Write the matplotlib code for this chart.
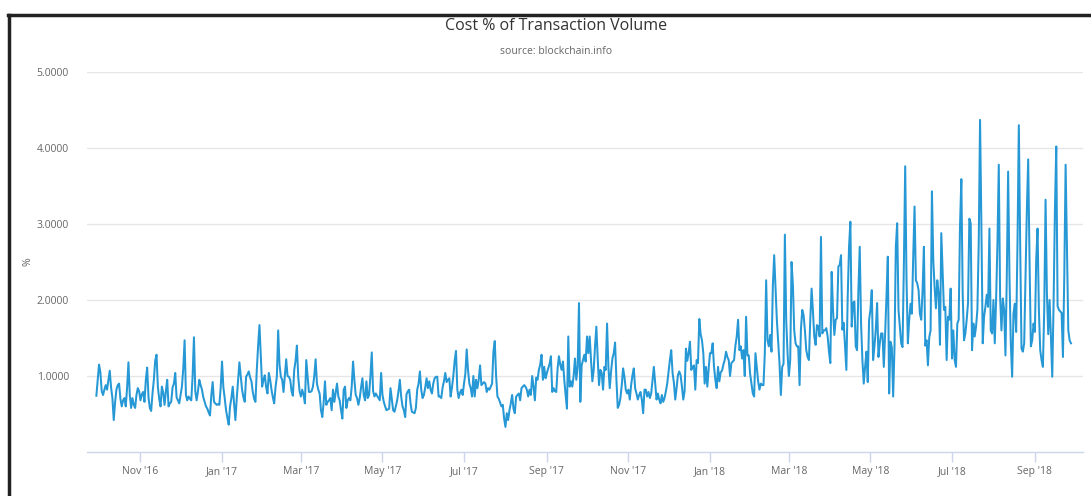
import matplotlib
matplotlib.use("Agg")
import matplotlib.pyplot as plt
import matplotlib.dates as mdates
from matplotlib.lines import Line2D
import pandas as pd

plt.rcParams["font.family"] = ["Open Sans", "DejaVu Sans"]

title = "Cost % of Transaction Volume"
subtitle = "source: blockchain.info"
y_label = "%"
start_date = "2016-09-29"
y_ticks = [1, 2, 3, 4, 5]

# daily values
values_2016 = [
    0.74, 0.95, 1.15, 1.05, 0.80, 0.75, 0.82, 0.88, 0.82, 0.95,
    1.07, 0.85, 0.71, 0.42, 0.65, 0.82, 0.88, 0.90, 0.70, 0.60,
    0.68, 0.71, 0.60, 0.85, 1.18, 0.75, 0.58, 0.71, 0.62, 0.58,
    0.75, 0.84, 0.80, 0.68, 0.76, 0.79, 0.66, 0.95, 1.11, 0.72,
    0.58, 0.54, 0.77, 0.95, 1.20, 1.28, 0.86, 0.70, 0.60, 0.86,
    0.78, 0.62, 0.80, 0.95, 0.60, 0.64, 0.66, 0.85, 0.90, 1.04,
    0.72, 0.68, 0.64, 0.75, 0.86, 1.10, 1.47, 0.75, 0.68, 0.73,
    0.70, 0.68, 1.00, 1.51, 0.80, 0.68, 0.80, 0.95, 0.88, 0.82,
    0.72, 0.66, 0.60, 0.57, 0.52, 0.48, 0.75, 0.92, 0.66, 0.64,
    0.62, 0.63, 0.62, 0.85,
]

values_2017 = [
    1.19, 0.85, 0.71, 0.55, 0.45, 0.36,
    0.60, 0.71, 0.86, 0.64, 0.42, 0.70, 0.95, 1.18, 1.00, 0.82,
    0.72, 0.66, 0.99, 1.02, 1.06, 0.98, 0.93, 0.79, 0.70, 0.66,
    1.08, 1.40, 1.67, 1.25, 0.86, 0.95, 1.01, 0.85, 0.77, 1.04,
    0.95, 0.82, 0.72, 0.64, 0.85, 0.99, 1.60, 1.15, 0.99, 0.95,
    0.79, 1.00, 1.22, 1.00, 0.99, 0.95, 0.80, 0.74, 1.08, 1.20,
    1.40, 0.99, 0.80, 0.73, 0.82, 0.75, 0.64, 1.21, 1.00, 0.79,
    0.79, 0.80, 0.86, 1.00, 1.22, 0.90, 0.82, 0.77, 0.55, 0.46,
    0.65, 0.93, 0.62, 0.66, 0.68, 0.71, 0.55, 0.82, 0.66, 0.78,
    0.90, 0.73, 0.68, 0.55, 0.44, 0.82, 0.86, 0.58, 0.68, 0.71,
    0.68, 0.86, 1.19, 0.95, 0.75, 0.71, 0.62, 0.71, 0.85, 0.97,
    0.75, 0.68, 0.93, 0.71, 0.75, 1.00, 1.31, 0.80, 0.73, 0.77,
    0.74, 0.71, 0.68, 1.04, 0.75, 0.66, 0.60, 0.55, 0.56, 0.57,
    0.84, 0.70, 0.55, 0.53, 0.60, 0.68, 0.80, 0.95, 0.73, 0.60,
    0.55, 0.46, 0.76, 0.80, 0.82, 0.64, 0.53, 0.52, 0.51, 0.58,
    0.82, 0.90, 1.06, 0.82, 0.71, 0.75, 0.85, 0.97, 0.84, 0.93,
    0.82, 0.77, 0.90, 0.97, 0.99, 0.99, 0.73, 0.73, 0.71, 0.85,
    0.93, 1.04, 0.92, 0.95, 0.97, 0.73, 0.85, 1.00, 1.20, 1.33,
    0.82, 0.71, 0.78, 0.82, 0.75, 0.90, 1.03, 1.35, 1.08, 0.90,
    0.84, 0.73, 1.00, 0.73, 0.95, 0.84, 0.95, 1.14, 0.88, 0.90,
    0.92, 0.90, 0.79, 0.84, 0.82, 0.86, 0.90, 1.32, 1.46, 1.00,
    0.73, 0.70, 0.65, 0.60, 0.62, 0.44, 0.33, 0.51, 0.42, 0.55,
    0.64, 0.75, 0.57, 0.51, 0.73, 0.75, 0.77, 0.68, 0.84, 0.86,
    0.88, 0.86, 0.82, 0.73, 0.82, 0.75, 1.00, 0.86, 0.68, 0.98,
    0.95, 1.08, 1.15, 1.28, 0.95, 1.12, 0.97, 1.04, 1.10, 1.16,
    1.26, 0.79, 0.84, 0.80, 0.79, 1.10, 1.26, 1.15, 1.08, 1.19,
    0.95, 0.75, 0.57, 1.52, 0.86, 0.93, 0.86, 1.00, 1.23, 0.95,
    1.12, 1.96, 0.66, 1.14, 1.21, 1.28, 1.19, 1.52, 1.30, 1.52,
    1.21, 0.93, 1.08, 1.39, 1.65, 1.23, 0.88, 1.08, 1.04, 0.82,
    1.12, 1.08, 1.69, 1.12, 0.84, 1.06, 1.23, 1.30, 1.44, 0.95,
    0.58, 0.62, 0.71, 0.88, 1.10, 0.99, 0.82, 0.77, 0.82, 0.69,
    0.88, 1.01, 1.10, 0.84, 0.77, 0.69, 0.75, 0.79, 0.69, 0.51,
    0.82, 0.82, 0.73, 0.79, 0.71, 0.77, 0.95, 1.12, 0.91, 0.69,
    0.77, 0.69, 0.64, 0.75, 0.66, 0.71, 0.80, 0.90, 1.06, 1.21,
    1.34, 1.04, 0.91, 0.69, 0.84, 1.01, 1.06, 1.01, 0.86, 0.69,
    0.80, 1.36, 1.20, 1.30, 1.45, 1.08, 1.12, 1.14, 0.82, 1.21,
    1.17, 1.75, 1.55, 1.47, 1.30, 0.90, 1.12, 0.86, 1.10,
]

values_2018 = [
    1.30,
    1.30, 1.43, 1.12, 0.95, 0.84, 1.12, 0.93, 1.05, 1.07, 1.15,
    1.21, 1.32, 1.25, 1.21, 1.00, 1.17, 1.19, 1.21, 1.40, 1.52,
    1.74, 1.34, 1.39, 1.23, 1.34, 1.00, 1.78, 1.27, 1.27, 1.03,
    0.90, 0.77, 0.73, 1.30, 1.12, 0.93, 0.82, 0.90, 0.88, 0.88,
    1.30, 2.26, 1.47, 1.39, 1.54, 1.32, 2.18, 2.59, 2.18, 1.74,
    1.45, 1.16, 0.75, 1.12, 1.16, 2.86, 1.74, 1.30, 1.00, 1.21,
    2.50, 2.20, 1.60, 1.43, 1.39, 1.39, 0.88, 1.61, 1.87, 1.80,
    1.60, 1.34, 1.25, 1.21, 1.74, 2.15, 1.85, 1.52, 1.41, 1.67,
    1.65, 1.52, 2.83, 1.56, 1.60, 1.60, 1.63, 1.52, 1.32, 1.17,
    2.37, 1.87, 1.54, 1.74, 1.76, 2.44, 2.46, 2.59, 1.61, 1.70,
    1.39, 1.08, 2.04, 2.70, 3.03, 1.65, 1.96, 1.98, 1.39, 1.34,
    2.13, 2.70, 1.69, 1.21, 0.90, 1.12, 1.32, 0.92, 1.74, 1.87,
    2.13, 1.21, 1.39, 1.61, 1.96, 1.25, 1.43, 1.56, 1.56, 1.12,
    1.56, 2.04, 2.57, 0.77, 1.45, 1.38, 0.73, 1.38, 2.70, 3.01,
    1.87, 1.65, 1.43, 1.38, 2.44, 3.76, 2.26, 1.43, 1.74, 1.95,
    1.82, 2.57, 3.23, 2.26, 2.22, 2.13, 1.82, 1.74, 2.13, 2.70,
    1.40, 1.47, 1.14, 1.51, 1.60, 3.43, 2.53, 2.17, 1.89, 2.26,
    2.09, 1.41, 2.88, 2.39, 1.87, 1.91, 1.21, 1.78, 1.74, 2.15,
    1.23, 1.60, 1.21, 1.12, 1.69, 1.74, 2.97, 3.59, 2.09, 1.47,
    1.56, 1.74, 1.96, 3.07, 3.01, 1.34, 1.69, 1.52, 1.65, 1.87,
    2.74, 4.37, 2.97, 1.43, 1.78, 1.91, 2.07, 1.91, 2.94, 1.60,
    1.56, 2.00, 1.43, 2.00, 2.74, 3.78, 2.04, 1.60, 2.02, 1.87,
    1.27, 2.31, 3.69, 2.31, 1.43, 0.99, 1.82, 1.95, 1.58, 2.74,
    4.30, 2.74, 1.36, 1.32, 1.43, 2.31, 3.18, 3.85, 2.53, 1.39,
    1.47, 1.69, 1.58, 2.53, 2.94, 1.87, 1.34, 1.21, 1.12, 1.87,
    3.32, 2.09, 1.55, 2.00, 1.52, 0.99, 1.96, 3.18, 4.02, 1.92,
    1.87, 1.85, 1.83, 1.25, 2.31, 3.78, 2.66, 1.60, 1.47, 1.43,
]

cost_pct = values_2016 + values_2017 + values_2018
dates = pd.date_range(start_date, periods=len(cost_pct), freq="D")

W, H = 1091, 496
fig = plt.figure(figsize=(W / 100, H / 100), dpi=100)
ax = fig.add_axes([87 / W, 1 - 452 / H, (1083 - 87) / W, (452 - 72) / H])

ax.plot(dates, cost_pct, color="#2598d5", lw=1.45, solid_joinstyle="round")

ax.set_ylim(0, 5)
ax.set_xlim(pd.Timestamp("2016-09-22"), pd.Timestamp("2018-10-07"))
ax.set_yticks(y_ticks)
ax.set_yticklabels([f"{v:.4f}" for v in y_ticks])
ax.yaxis.grid(True, color="#e6e6e6", lw=1)
ax.set_axisbelow(True)
for s in ["top", "right", "left"]:
    ax.spines[s].set_visible(False)
ax.spines["bottom"].set_color("#ccd6eb")
ax.spines["bottom"].set_linewidth(1)

ax.xaxis.set_major_locator(mdates.MonthLocator(bymonth=[1, 3, 5, 7, 9, 11]))
ax.xaxis.set_major_formatter(mdates.DateFormatter("%b '%y"))
ax.tick_params(axis="y", length=0, pad=13, labelcolor="#666666", labelsize=7.5)
ax.tick_params(axis="x", length=7, width=1, color="#ccd6eb", labelcolor="#666666",
               labelsize=7.5, pad=3)

fig.text(556 / W, 1 - 26 / H, title, ha="center", va="center", fontsize=11.5, color="#333333")
fig.text(556 / W, 1 - 52 / H, subtitle, ha="center", va="center", fontsize=7.5, color="#666666")
fig.text(28 / W, 1 - 262 / H, y_label, ha="center", va="center", rotation=90,
         fontsize=7.5, color="#666666")

# dark frame around the screenshot
fig.add_artist(Line2D([8 / W, 1], [1 - 14.5 / H, 1 - 14.5 / H], transform=fig.transFigure,
                      color="#222222", lw=2.5))
fig.add_artist(Line2D([8.5 / W, 8.5 / W], [0, 1 - 14.5 / H], transform=fig.transFigure,
                      color="#222222", lw=2.5))

fig.savefig("out.png", dpi=100)
